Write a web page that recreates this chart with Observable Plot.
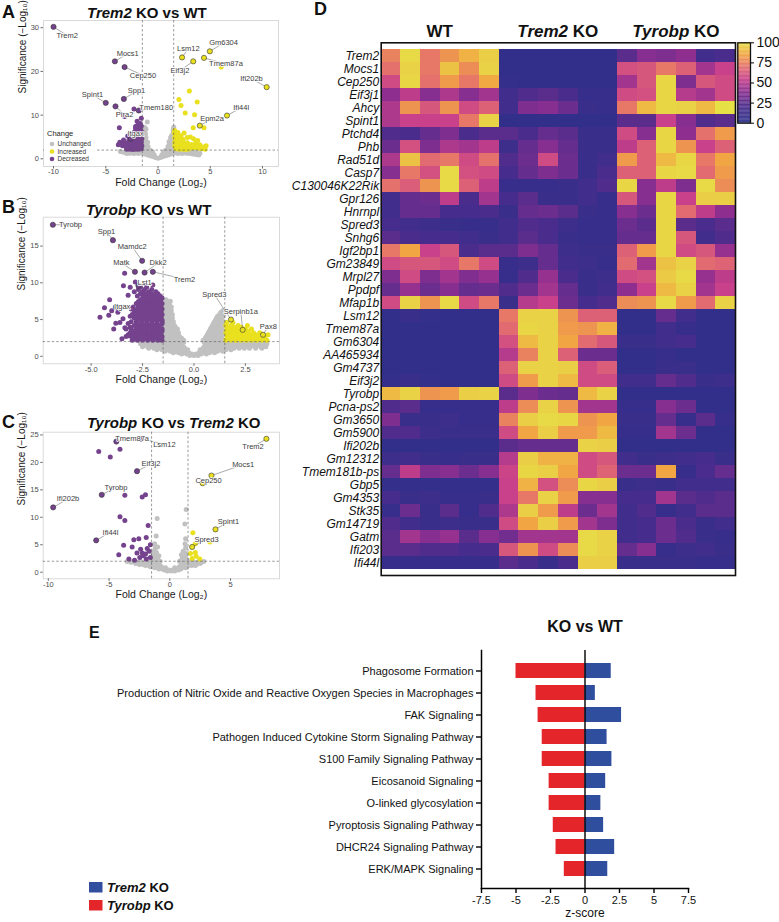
<!DOCTYPE html>
<html><head><meta charset="utf-8">
<script src="https://cdn.jsdelivr.net/npm/d3@7"></script>
<script src="https://cdn.jsdelivr.net/npm/@observablehq/plot@0.6"></script>
<style>
body{margin:0;background:#fff;}
#page{position:relative;width:779px;height:922px;overflow:hidden;background:#fff;font-family:'Liberation Sans',Arial,Helvetica,sans-serif;}
.panel{position:absolute;}
#overlay{position:absolute;left:0;top:0;pointer-events:none;}
</style></head><body><div id="page"></div>
<script>
// ---------------- DATA ----------------
// Panel A: Trem2 KO vs WT  ([log2 fold change, -log10 p])
const aGray = [[0,0.15],[-0.25,0.3],[0.25,0.3],[-0.5,0.5],[0.5,0.5],[-0.75,0.7],[0.75,0.7],[-1.0,0.9],[1.0,0.9],[-0.35,0.8],[0.35,0.8],[-1.25,1.1],[1.25,1.1],[-0.6,1.2],[0.6,1.2],[-1.5,1.3],[1.5,1.3],[-0.9,1.5],[0.9,1.5],[-1.8,1.5],[1.8,1.5],[-2.1,1.5],[2.1,1.5],[-2.4,1.4],[2.4,1.4],[-2.7,1.3],[2.7,1.3],[3.0,1.2],[3.3,1.1],[3.6,1.0],[3.9,0.9],[-3.0,1.2],[-1.2,1.8],[1.2,1.8],[-1.6,1.9],[1.6,1.9],[-2.0,1.9],[2.0,1.9],[-2.5,1.85],[2.5,1.85],[3.0,1.8],[3.5,1.7],[-0.7,1.9],[0.7,1.9],[-1.4,2.3],[1.4,2.3],[-1.0,2.4],[1.0,2.4],[-1.25,2.8],[1.25,2.8],[-1.45,3.2],[1.45,3.2],[-1.1,3.3],[1.1,3.3],[-1.35,3.8],[1.35,3.8],[-1.2,4.3],[1.25,4.3],[-1.45,4.6],[1.45,4.8],[-1.3,5.1],[1.3,5.3],[-1.45,5.6],[-1.25,6.0],[1.45,6.0],[-1.4,6.6],[-1.3,7.2],[1.5,7.2],[-1.03,8.4],[-1.5,4.0],[-1.5,2.7],[1.5,2.6],[1.5,3.6],[-1.55,1.6],[-2.8,1.6],[3.2,1.5],[4.0,1.3],[-3.3,1.5],
 [-1.1,1.3],[1.1,1.3],[-0.8,1.1],[0.8,1.1],[-0.45,1.0],[0.45,1.0],[-1.35,1.6],[1.35,1.6],[-1.0,1.9],[1.0,1.9],[-0.5,1.5],[0.5,1.5],[-1.25,2.1],[1.25,2.1],[-0.85,2.0],[0.85,2.0],[-1.3,2.5],[1.3,2.5],[-0.95,2.8],[0.95,2.8],[-1.2,3.1],[1.2,3.1],[-1.3,3.5],[1.3,3.5],[-1.0,3.8],[1.05,3.9],[-1.35,4.3],[1.4,4.3],[-1.15,4.8],[1.2,4.8],[-1.4,5.2],[1.4,5.5],[-1.2,5.6],[-1.35,6.3],[1.45,6.6],[-1.5,7.0],[-1.15,6.8],[-1.5,5.0],[-1.5,3.4],[1.5,4.2],[1.5,5.0],[-1.9,1.2],[1.9,1.2],[-2.3,1.2],[2.3,1.2],[-2.6,1.6],[2.7,1.6],[3.3,1.5],[3.7,1.4],[-3.6,1.7],[-2.2,1.75],[2.2,1.75],[-1.75,1.8],[1.75,1.8]];
const aDown = [[-2.3,11.4],[-3.2,9.7],[-3.7,7.1],[-2.0,8.6],[-2.15,6.9],[-3.66,3.8],[-3.5,3.4],[-3.2,3.6],[-2.85,2.7],[-1.6,7.5],[-1.9,7.8],[-1.7,6.8],[-1.55,6.2],[-1.8,6.0],[-2.0,6.4],[-2.3,6.0],[-2.6,5.6],[-1.6,5.5],[-1.75,5.0],[-2.1,5.2],[-2.4,5.4],[-2.0,4.9],[-2.6,4.8],[-2.9,5.2],[-1.55,4.6],[-1.65,4.1],[-1.9,4.4],[-2.2,4.3],[-2.5,4.0],[-2.8,4.2],[-2.4,4.6],[-1.6,3.8],[-1.8,3.5],[-2.05,3.7],[-2.35,3.4],[-2.65,3.3],[-2.7,3.8],[-3.0,3.5],[-1.55,3.0],[-1.75,2.8],[-2.0,2.9],[-2.25,2.7],[-2.5,2.6],[-2.75,2.5],[-3.1,2.8],[-3.4,3.0],[-1.6,2.3],[-1.85,2.2],[-2.1,2.2],[-2.4,2.15],[-2.7,2.2],[-3.0,2.2],[-3.3,4.3],[-3.5,3.6],[-3.8,3.2],[-1.7,8.1],[-1.6,9.3],
 [-1.75,7.1],[-2.15,7.4],[-1.65,6.1],[-1.95,5.6],[-2.25,5.7],[-1.7,4.5],[-2.3,4.0],[-1.95,3.2],[-2.2,3.1],[-2.55,3.0],[-2.85,3.1],[-1.7,2.5],[-2.3,2.4],[-2.85,2.4]];
const aUp = [[6.05,21],[3.0,15.5],[2.0,13.6],[2.2,12.2],[3.75,13.0],[2.6,10.5],[3.5,10.1],[4.4,7.1],[3.37,7.1],[2.5,5.9],[1.6,6.5],[1.55,5.9],[1.7,5.5],[1.9,6.0],[2.2,5.3],[2.0,5.0],[1.6,4.8],[1.8,4.3],[2.1,4.6],[2.4,4.4],[2.8,4.9],[3.1,5.0],[3.4,4.6],[3.8,4.2],[1.6,3.8],[1.9,3.6],[2.2,3.8],[2.5,3.5],[2.8,3.7],[3.2,3.3],[3.6,3.6],[4.0,3.2],[4.6,3.0],[1.6,3.0],[1.8,2.8],[2.1,2.9],[2.4,2.7],[2.7,2.6],[3.0,2.8],[3.3,2.5],[3.6,2.6],[3.9,2.4],[4.2,2.3],[4.5,2.2],[1.7,2.3],[2.0,2.2],[2.3,2.2],[2.6,2.15],[2.9,2.2],
 [1.75,4.0],[2.0,4.1],[2.3,4.2],[1.75,3.3],[2.05,3.3],[2.35,3.1],[2.65,3.1],[2.95,3.2],[3.4,3.0],[3.8,2.9],[4.3,2.7],[1.85,2.5],[2.15,2.5],[2.45,2.4]];
const aLabels = [
 {gene:"Trem2",fc:-10,s:30.2,lx:-8.7,ly:28.2},{gene:"Mocs1",fc:-4.13,s:22.3,lx:-2.9,ly:24.1},
 {gene:"Cep250",fc:-3.2,s:21,lx:-1.44,ly:19.1},{gene:"Spint1",fc:-5.0,s:12.8,lx:-6.27,ly:14.6},
 {gene:"Spp1",fc:-3.27,s:13.7,lx:-2.06,ly:15.5},{gene:"Pira2",fc:-4.07,s:12.0,lx:-3.2,ly:10.1},
 {gene:"Tmem180",fc:-1.84,s:11.05,lx:-0.17,ly:11.7},{gene:"Itgax",fc:-2.6,s:4.6,lx:-2.15,ly:5.7},
 {gene:"Lsm12",fc:2.3,s:23.2,lx:2.9,ly:25.2},{gene:"Gm6304",fc:4.96,s:24.6,lx:6.27,ly:26.5},
 {gene:"Eif3j2",fc:3.37,s:22.3,lx:2.1,ly:20.2},{gene:"Tmem87a",fc:4.4,s:23.1,lx:6.5,ly:21.7},
 {gene:"Ifi202b",fc:10.4,s:16.4,lx:8.95,ly:18.3},{gene:"Ifi44l",fc:6.6,s:9.9,lx:7.96,ly:11.7},
 {gene:"Epm2a",fc:4.0,s:7.6,lx:5.17,ly:9.15}];

// Panel B: Tyrobp KO vs WT
const bGray = [[-0.2,0.1],[0,0.1],[0.2,0.1],
 [-1.0,0.5],[-0.75,0.5],[-0.5,0.5],[-0.25,0.5],[0.25,0.5],[0.5,0.5],[0.75,0.5],[1.0,0.5],
 [-1.8,0.9],[-1.55,0.9],[-1.3,0.9],[-1.05,0.9],[-0.8,0.9],[-0.55,0.9],[-0.3,0.9],[0.3,0.9],[0.55,0.9],[0.8,0.9],[1.05,0.9],[1.3,0.9],[1.55,0.9],[1.8,0.9],
 [-2.5,1.3],[-2.25,1.3],[-2.0,1.3],[-1.75,1.3],[-1.5,1.3],[-1.25,1.3],[-1.0,1.3],[-0.75,1.3],[-0.5,1.3],[0.5,1.3],[0.75,1.3],[1.0,1.3],[1.25,1.3],[1.5,1.3],[1.75,1.3],[2.0,1.3],[2.25,1.3],[2.5,1.3],[2.75,1.3],[3.0,1.3],[3.25,1.3],[3.5,1.3],
 [-2.6,1.7],[-2.35,1.7],[-2.1,1.7],[-1.85,1.7],[-1.6,1.7],[-1.35,1.7],[-1.1,1.7],[-0.85,1.7],[-0.6,1.7],[0.55,1.7],[0.8,1.7],[1.05,1.7],[1.3,1.7],[1.55,1.7],[1.8,1.7],[2.05,1.7],[2.3,1.7],[2.55,1.7],[2.8,1.7],[3.05,1.7],[3.3,1.7],[3.55,1.7],
 [-1.45,2.2],[-1.2,2.2],[-0.95,2.2],[-0.7,2.2],[-0.5,2.2],[0.45,2.2],[0.7,2.2],[0.95,2.2],[1.2,2.2],[1.45,2.2],
 [-1.45,2.7],[-1.2,2.7],[-0.95,2.7],[-0.7,2.7],[0.6,2.7],[0.85,2.7],[1.1,2.7],[1.35,2.7],
 [-1.45,3.2],[-1.2,3.2],[-0.95,3.2],[-0.75,3.2],[0.7,3.2],[0.95,3.2],[1.2,3.2],[1.45,3.2],
 [-1.45,3.7],[-1.2,3.7],[-0.95,3.7],[-0.8,3.7],[0.8,3.7],[1.05,3.7],[1.3,3.7],
 [-1.45,4.2],[-1.2,4.2],[-0.95,4.2],[0.9,4.2],[1.15,4.2],[1.4,4.2],
 [-1.45,4.7],[-1.2,4.7],[-1.0,4.7],[1.0,4.7],[1.25,4.7],[1.45,4.7],
 [-1.45,5.2],[-1.2,5.2],[-1.05,5.2],[1.1,5.2],[1.35,5.2],
 [-1.45,5.7],[-1.2,5.7],[-1.05,5.7],[1.25,5.7],[1.45,5.7],
 [-1.45,6.2],[-1.25,6.2],[-1.1,6.2],[1.4,6.2],
 [-1.45,6.7],[-1.25,6.7],[-1.1,6.7],[-1.4,7.2],[-1.2,7.2],[-1.35,7.7],[-1.15,7.5],
 [-0.6,0.3],[-0.35,0.3],[-0.1,0.3],[0.1,0.3],[0.35,0.3],[0.6,0.3],
 [-1.4,0.7],[-1.15,0.7],[-0.9,0.7],[-0.65,0.7],[-0.4,0.7],[0.4,0.7],[0.65,0.7],[0.9,0.7],[1.15,0.7],[1.4,0.7],
 [-2.2,1.1],[-1.95,1.1],[-1.7,1.1],[-1.45,1.1],[-1.2,1.1],[-0.95,1.1],[-0.7,1.1],[-0.45,1.1],[0.45,1.1],[0.7,1.1],[0.95,1.1],[1.2,1.1],[1.45,1.1],[1.7,1.1],[1.95,1.1],[2.2,1.1],[2.45,1.1],[2.7,1.1],[3.0,1.1],[3.3,1.1],
 [-2.45,1.5],[-2.2,1.5],[-1.95,1.5],[-1.7,1.5],[-1.45,1.5],[-1.2,1.5],[-0.95,1.5],[-0.7,1.5],[0.65,1.5],[0.9,1.5],[1.15,1.5],[1.4,1.5],[1.65,1.5],[1.9,1.5],[2.15,1.5],[2.4,1.5],[2.65,1.5],[2.9,1.5],[3.15,1.5],[3.4,1.5],
 [-2.2,1.9],[-1.95,1.9],[-1.7,1.9],[-1.5,1.9],[-1.25,1.9],[-1.0,1.9],[-0.75,1.9],[-0.5,1.9],[0.5,1.9],[0.7,1.9],[0.95,1.9],[1.2,1.9],[1.45,1.9],[1.7,1.9],[1.95,1.9],[2.2,1.9],[2.45,1.9],[2.7,1.9],[2.95,1.9],[3.2,1.9],[3.45,1.9],
 [-1.35,2.45],[-1.1,2.45],[-0.85,2.45],[-0.6,2.45],[0.55,2.45],[0.8,2.45],[1.05,2.45],[1.3,2.45],
 [-1.35,2.95],[-1.1,2.95],[-0.85,2.95],[0.65,2.95],[0.9,2.95],[1.15,2.95],[1.4,2.95],
 [-1.35,3.45],[-1.1,3.45],[-0.85,3.45],[0.75,3.45],[1.0,3.45],[1.25,3.45],[1.45,3.45],
 [-1.35,3.95],[-1.1,3.95],[-0.9,3.95],[0.85,3.95],[1.1,3.95],[1.35,3.95],
 [-1.35,4.45],[-1.1,4.45],[0.95,4.45],[1.2,4.45],[1.45,4.45],
 [-1.35,4.95],[-1.15,4.95],[1.05,4.95],[1.3,4.95],[-1.35,5.45],[-1.15,5.45],[1.15,5.45],[1.4,5.45],
 [-1.35,5.95],[-1.2,5.95],[1.3,5.95],[-1.35,6.45],[-1.2,6.45],[-1.35,6.95],[-1.2,6.95]];
const bDown = [[-3.37,11.3],[-3.43,9.6],[-4.1,7.7],[-4.57,5.3],[-4.14,5.6],[-4.0,6.2],[-3.36,3.9],[-3.2,2.8],[-3.6,4.6],[-3.7,6.0],[-3.45,5.1],[-3.9,3.7],[-3.5,2.4],[-3.8,4.5],[-2.85,10.1],[-2.4,9.9],[-2.0,9.7],[-3.2,8.3],[-4.35,6.6],
 [-3.0,2.2],[-2.75,2.2],[-2.5,2.2],[-2.25,2.2],[-2.0,2.2],[-1.75,2.2],[-1.55,2.2],
 [-3.3,2.7],[-3.05,2.7],[-2.8,2.7],[-2.55,2.7],[-2.3,2.7],[-2.05,2.7],[-1.8,2.7],[-1.55,2.7],
 [-3.1,3.2],[-2.85,3.2],[-2.6,3.2],[-2.35,3.2],[-2.1,3.2],[-1.85,3.2],[-1.6,3.2],
 [-3.3,3.7],[-3.05,3.7],[-2.8,3.7],[-2.55,3.7],[-2.3,3.7],[-2.05,3.7],[-1.8,3.7],[-1.55,3.7],
 [-2.9,4.2],[-2.65,4.2],[-2.4,4.2],[-2.15,4.2],[-1.9,4.2],[-1.65,4.2],
 [-3.05,4.7],[-2.8,4.7],[-2.55,4.7],[-2.3,4.7],[-2.05,4.7],[-1.8,4.7],[-1.55,4.7],
 [-2.9,5.2],[-2.65,5.2],[-2.4,5.2],[-2.15,5.2],[-1.9,5.2],[-1.65,5.2],
 [-3.0,5.7],[-2.75,5.7],[-2.5,5.7],[-2.25,5.7],[-2.0,5.7],[-1.75,5.7],[-1.55,5.7],
 [-2.85,6.2],[-2.6,6.2],[-2.35,6.2],[-2.1,6.2],[-1.85,6.2],[-1.6,6.2],
 [-2.95,6.7],[-2.7,6.7],[-2.45,6.7],[-2.2,6.7],[-1.95,6.7],[-1.7,6.7],
 [-2.8,7.2],[-2.55,7.2],[-2.3,7.2],[-2.05,7.2],[-1.8,7.2],[-1.55,7.2],
 [-2.6,7.7],[-2.35,7.7],[-2.1,7.7],[-1.85,7.7],[-1.6,7.7],
 [-2.75,8.2],[-2.45,8.2],[-2.2,8.2],[-1.9,8.2],[-1.65,8.2],
 [-2.9,8.8],[-2.5,8.8],[-2.2,8.8],[-1.85,8.8],[-3.1,9.4],[-2.6,9.4],[-2.3,9.4],
 [-2.9,2.45],[-2.65,2.45],[-2.4,2.45],[-2.15,2.45],[-1.9,2.45],[-1.65,2.45],
 [-3.2,2.95],[-2.95,2.95],[-2.7,2.95],[-2.45,2.95],[-2.2,2.95],[-1.95,2.95],[-1.7,2.95],
 [-3.0,3.45],[-2.75,3.45],[-2.5,3.45],[-2.25,3.45],[-2.0,3.45],[-1.75,3.45],[-1.55,3.45],
 [-3.1,3.95],[-2.7,3.95],[-2.45,3.95],[-2.2,3.95],[-1.95,3.95],[-1.7,3.95],
 [-3.2,4.45],[-2.8,4.45],[-2.55,4.45],[-2.3,4.45],[-2.05,4.45],[-1.8,4.45],[-1.55,4.45],
 [-2.75,4.95],[-2.5,4.95],[-2.25,4.95],[-2.0,4.95],[-1.75,4.95],[-1.55,4.95],
 [-3.1,5.45],[-2.85,5.45],[-2.6,5.45],[-2.35,5.45],[-2.1,5.45],[-1.85,5.45],[-1.6,5.45],
 [-2.9,5.95],[-2.65,5.95],[-2.4,5.95],[-2.15,5.95],[-1.9,5.95],[-1.65,5.95],
 [-3.05,6.45],[-2.75,6.45],[-2.5,6.45],[-2.25,6.45],[-2.0,6.45],[-1.75,6.45],[-1.55,6.45],
 [-2.6,6.95],[-2.35,6.95],[-2.1,6.95],[-1.85,6.95],[-1.6,6.95],
 [-2.7,7.45],[-2.45,7.45],[-2.2,7.45],[-1.95,7.45],[-1.7,7.45],
 [-2.5,7.95],[-2.25,7.95],[-2.0,7.95],[-1.75,7.95],[-1.55,7.95],
 [-2.6,8.5],[-2.35,8.5],[-2.05,8.5],[-1.75,8.5],[-2.7,9.1],[-2.4,9.1],[-2.05,9.1]];
const bUp = [[1.55,2.2],[1.8,2.2],[2.05,2.2],[2.3,2.2],[2.55,2.2],[2.8,2.2],[3.05,2.2],[3.3,2.2],[3.55,2.2],
 [1.6,2.7],[1.85,2.7],[2.1,2.7],[2.35,2.7],[2.6,2.7],[2.85,2.7],[3.1,2.7],[3.6,2.93],
 [1.55,3.2],[1.8,3.2],[2.05,3.2],[2.3,3.2],[2.6,3.2],[2.9,3.2],[3.2,3.2],
 [1.6,3.7],[1.85,3.7],[2.1,3.7],[2.5,3.7],[2.8,3.7],[1.55,4.2],[1.8,4.2],[2.15,4.2],[2.6,4.2],[1.6,4.6],[1.9,4.6],
 [1.7,2.45],[1.95,2.45],[2.2,2.45],[2.45,2.45],[2.7,2.45],[2.95,2.45],[3.2,2.45],[3.45,2.45],
 [1.7,2.95],[1.95,2.95],[2.2,2.95],[2.45,2.95],[2.75,2.95],[3.0,2.95],
 [1.7,3.45],[1.95,3.45],[2.2,3.45],[2.4,3.45],[2.65,3.45],[1.7,3.95],[1.95,3.95],[2.3,3.95]];
const bLabels = [
 {gene:"Tyrobp",fc:-6.86,s:17.9,lx:-6.0,ly:17.9},{gene:"Spp1",fc:-3.94,s:15.8,lx:-4.25,ly:17.0},
 {gene:"Mamdc2",fc:-2.52,s:13.0,lx:-3.0,ly:14.9},{gene:"Matk",fc:-2.87,s:11.5,lx:-3.53,ly:12.7},
 {gene:"Dkk2",fc:-2.4,s:11.4,lx:-1.74,ly:12.7},{gene:"Trem2",fc:-2.0,s:11.5,lx:-0.46,ly:10.5},
 {gene:"Lst1",fc:-2.7,s:9.6,lx:-2.4,ly:10.0},{gene:"Itgax",fc:-3.8,s:6.7,lx:-3.49,ly:6.7},
 {gene:"Spred3",fc:1.8,s:5.0,lx:0.99,ly:8.4},{gene:"Serpinb1a",fc:2.37,s:3.6,lx:2.28,ly:6.1},
 {gene:"Pax8",fc:3.36,s:2.93,lx:3.62,ly:4.1}];

// Panel C: Tyrobp KO vs Trem2 KO
const cGray = [[-0.2,0.2],[0.1,0.2],[0.4,0.2],[-0.9,0.6],[-0.6,0.6],[-0.3,0.6],[0.6,0.6],[0.9,0.6],
 [-1.6,1.0],[-1.3,1.0],[-1.0,1.0],[-0.7,1.0],[0.8,1.0],[1.1,1.0],[1.4,1.0],
 [-2.5,1.4],[-2.2,1.4],[-1.9,1.4],[-1.6,1.4],[-1.3,1.4],[-1.0,1.4],[1.0,1.4],[1.3,1.4],[1.6,1.4],[1.9,1.4],[2.2,1.4],
 [-3.2,1.8],[-2.9,1.8],[-2.6,1.8],[-2.3,1.8],[-2.0,1.8],[-1.7,1.8],[-1.4,1.8],[-1.1,1.8],[1.1,1.8],[1.4,1.8],[1.7,1.8],[2.0,1.8],[2.3,1.8],[2.6,1.8],
 [-1.45,2.2],[-1.2,2.2],[1.2,2.2],[1.45,2.2],[-1.4,2.6],[-1.15,2.6],[1.25,2.6],[-1.4,3.0],[-1.2,3.0],[1.3,3.0],[-1.35,3.4],[1.35,3.4],[-1.3,3.8],[-1.2,4.4],[1.3,4.4],[-1.25,5.2],[1.25,5.2],
 [-1.04,9.8],[-1.12,6.6],[1.35,11.4],[1.24,8.8],[1.3,6.1],[-1.0,4.6],
 [-0.45,0.4],[-0.05,0.4],[0.25,0.4],[0.7,0.4],[-1.25,0.8],[-0.95,0.8],[-0.65,0.8],[-0.35,0.8],[0.4,0.8],[0.7,0.8],[1.0,0.8],[1.3,0.8],
 [-2.0,1.2],[-1.7,1.2],[-1.4,1.2],[-1.1,1.2],[-0.8,1.2],[0.9,1.2],[1.2,1.2],[1.5,1.2],[1.8,1.2],[2.1,1.2],
 [-2.8,1.6],[-2.5,1.6],[-2.2,1.6],[-1.9,1.6],[-1.6,1.6],[-1.3,1.6],[-1.0,1.6],[1.0,1.6],[1.3,1.6],[1.6,1.6],[1.9,1.6],[2.2,1.6],[2.5,1.6],
 [-3.5,1.95],[-3.0,1.95],[-2.4,1.95],[-1.9,1.95],[-1.25,1.95],[1.25,1.95],[1.9,1.95],[2.4,1.95],[2.8,1.95],
 [-1.0,2.4],[1.0,2.4],[-0.9,3.0],[0.95,3.2],[-1.1,3.6],[1.1,3.8],[-0.8,2.0],[0.8,2.0]];
const cDown = [[-5.85,22.0],[-4.9,21.0],[-4.1,22.4],[-3.7,14.0],[-2.27,13.7],[-2.0,14.1],[-4.1,10.1],[-3.7,9.4],[-1.78,8.5],[-4.2,3.2],[-3.8,4.9],[-2.96,5.9],[-2.55,6.1],[-1.94,6.3],[-1.6,5.0],[-3.1,4.6],[-2.7,3.5],[-2.27,3.5],[-2.0,3.3],[-2.47,2.7],[-1.94,2.4],[-3.37,2.4],[-1.6,2.7],[-1.86,4.3],[-2.2,3.0],[-2.9,2.2],[-1.7,3.8],[-2.4,4.2]];
const cUp = [[1.9,7.2],[3.3,5.5],[2.1,5.2],[1.7,3.4],[2.1,3.6],[2.17,2.9],[1.84,2.5],[2.47,2.4]];
const cLabels = [
 {gene:"Ifi202b",fc:-9.6,s:11.8,lx:-8.38,ly:13.4},{gene:"Tyrobp",fc:-5.6,s:14.1,lx:-4.43,ly:15.5},
 {gene:"Ifi44l",fc:-6.06,s:5.8,lx:-4.88,ly:7.3},{gene:"Tmem87a",fc:-4.4,s:23.8,lx:-3.1,ly:24.3},
 {gene:"Lsm12",fc:-2.35,s:24.3,lx:-0.44,ly:23.3},{gene:"Eif3j2",fc:-2.7,s:18.4,lx:-1.55,ly:19.7},
 {gene:"Trem2",fc:7.95,s:24.3,lx:6.85,ly:22.8},{gene:"Mocs1",fc:3.43,s:17.6,lx:6.04,ly:19.6},
 {gene:"Cep250",fc:2.7,s:16.2,lx:3.19,ly:16.7},{gene:"Spint1",fc:3.76,s:7.8,lx:4.83,ly:9.2},
 {gene:"Spred3",fc:1.84,s:4.6,lx:3.02,ly:5.96}];

// Panel D: heatmap (scaled expression 0-100), 6 samples per group
const genes = ["Trem2","Mocs1","Cep250","Eif3j1","Ahcy","Spint1","Ptchd4","Phb","Rad51d","Casp7","C130046K22Rik","Gpr126","Hnrnpl","Spred3","Snhg6","Igf2bp1","Gm23849","Mrpl27","Ppdpf","Mfap1b","Lsm12","Tmem87a","Gm6304","AA465934","Gm4737","Eif3j2","Tyrobp","Pcna-ps2","Gm3650","Gm5900","Ifi202b","Gm12312","Tmem181b-ps","Gbp5","Gm4353","Stk35","Gm14719","Gatm","Ifi203","Ifi44l"];
const groups = ["WT","Trem2 KO","Tyrobp KO"];
const wtVals = [[75,98,72,80,88,95],[70,96,72,92,78,96],[58,97,70,82,72,86],[40,52,38,48,38,45],[48,80,62,80,58,65],[48,55,55,55,72,96],[22,20,28,35,20,25],[30,60,35,48,45,52],[48,92,68,72,58,70],[38,72,60,98,60,58],[70,64,80,98,65,52],[15,28,30,52,20,45],[15,28,28,18,18,20],[18,15,12,10,8,8],[25,20,18,18,15,10],[72,85,55,62,20,25],[58,62,62,58,72,58],[35,58,35,45,36,42],[28,42,30,38,28,30],[58,96,80,98,58,72],[5,10,6,5,5,5],[5,5,5,5,5,5],[5,5,5,5,5,5],[5,5,5,5,5,5],[5,5,5,5,5,5],[6,10,6,5,5,5],[90,96,80,82,95,96],[22,25,8,8,8,8],[35,10,10,12,8,8],[22,22,12,10,10,10],[5,5,5,5,5,5],[12,15,10,8,10,10],[28,52,35,38,30,38],[6,6,6,6,6,6],[18,10,12,8,8,10],[8,30,10,25,8,22],[22,15,10,12,10,10],[25,45,38,42,25,38],[25,25,22,22,18,20],[8,8,8,8,8,8]];
const trem2Vals = [[5,5,5,5,5,5],[5,5,5,5,5,5],[6,5,5,5,5,5],[15,22,25,20,8,8],[15,35,38,30,10,8],[5,5,5,5,5,5],[25,20,28,25,10,10],[12,28,38,28,10,10],[22,30,58,30,10,15],[18,28,35,30,10,20],[8,8,8,10,15,22],[18,25,10,10,15,8],[10,28,30,25,10,8],[15,22,20,12,8,8],[15,25,20,10,8,8],[25,35,28,12,10,10],[8,12,28,15,12,8],[8,22,42,20,10,12],[22,30,45,28,10,15],[10,50,55,30,18,22],[72,96,96,80,65,65],[68,97,96,82,80,88],[60,90,96,85,68,62],[50,75,96,65,30,30],[65,96,96,95,58,64],[58,82,96,90,58,58],[25,35,30,28,90,96],[52,78,96,80,45,45],[75,95,98,97,80,85],[58,85,95,82,82,90],[25,28,28,28,96,95],[50,95,88,88,58,62],[56,97,95,85,58,66],[55,88,60,78,97,95],[55,72,96,82,38,38],[48,95,82,52,30,45],[58,85,95,82,45,35],[32,45,45,45,98,96],[62,80,58,78,98,96],[25,20,10,20,95,95]];
const tyrobpVals = [[25,38,35,40,15,20],[60,62,72,65,45,55],[45,62,97,35,62,58],[58,60,97,50,45,58],[72,90,97,96,90,100],[25,25,55,38,22,25],[58,38,97,40,70,82],[52,65,97,80,55,65],[82,65,90,97,72,85],[65,65,97,98,68,82],[97,38,52,35,98,78],[62,38,97,55,95,95],[38,30,97,68,52,40],[30,25,97,25,20,25],[28,28,97,62,15,22],[65,82,97,58,62,42],[68,45,92,96,68,66],[58,60,94,98,42,52],[40,55,90,96,45,55],[78,80,98,82,68,96],[5,5,28,15,5,5],[5,5,15,8,5,5],[10,10,15,18,5,5],[5,5,8,5,5,5],[5,5,10,10,5,5],[15,15,28,22,10,12],[5,5,5,5,5,5],[8,8,38,30,5,5],[10,10,28,8,25,8],[8,8,45,30,5,5],[5,5,5,5,5,5],[15,10,12,15,18,10],[30,30,85,8,20,28],[10,12,10,15,15,15],[18,18,45,25,22,25],[15,22,8,15,25,25],[15,18,30,20,10,15],[15,18,30,22,10,8],[28,38,8,12,15,10],[10,10,10,10,8,8]];
const colorTicks = [0,25,50,75,100];

// Panel E: canonical pathways z-scores
const pathways = ["Phagosome Formation","Production of Nitric Oxide and Reactive Oxygen Species in Macrophages","FAK Signaling","Pathogen Induced Cytokine Storm Signaling Pathway","S100 Family Signaling Pathway","Eicosanoid Signaling","O-linked glycosylation","Pyroptosis Signaling Pathway","DHCR24 Signaling Pathway","ERK/MAPK Signaling"];
const trem2Z = [1.9,0.75,2.65,1.6,1.95,1.5,1.15,1.35,2.15,1.65];
const tyrobpZ = [-5.0,-3.55,-3.4,-3.1,-3.1,-2.6,-2.6,-2.3,-2.1,-1.5];
const zTicks = [-7.5,-5,-2.5,0,2.5,5,7.5];

// ---------------- DRAWING ----------------
const FONT = "'Liberation Sans', Arial, Helvetica, sans-serif";
const GRAY = "#c1c1c1", PURPLE = "#75438e", YELLOW = "#e9e01f";
const RED = "#e4262a", BLUE = "#2f4f9e";
const page = document.getElementById("page");
function place(node, left, top){ const d = document.createElement("div"); d.className = "panel"; d.style.left = left + "px"; d.style.top = top + "px"; d.appendChild(node); page.appendChild(d); return node; }
const toObj = a => a.map(([fc, s]) => ({fc, s}));

function volcano(c){
  return Plot.plot({
    width: c.width, height: c.height,
    marginLeft: c.ml, marginRight: c.mr, marginTop: c.mt, marginBottom: c.mb,
    style: {fontFamily: FONT, background: "transparent", overflow: "visible"},
    x: {domain: c.xdom}, y: {domain: c.ydom},
    marks: [
      Plot.frame({stroke: "#d6d6d6", strokeWidth: 0.9}),
      Plot.axisX({ticks: c.xticks, tickFormat: c.xfmt, tickSize: 2.5, tickPadding: 0, fontSize: 7.5, fill: "#4d4d4d", stroke: "#6d6d6d", label: null}),
      Plot.axisY({ticks: c.yticks, tickFormat: d => String(d), tickSize: 2.5, tickPadding: 2, fontSize: 7.5, fill: "#4d4d4d", stroke: "#6d6d6d", label: null}),
      Plot.dot(toObj(c.gray), {x: "fc", y: "s", r: 2.5, fill: GRAY}),
      Plot.dot(toObj(c.down), {x: "fc", y: "s", r: 2.5, fill: PURPLE}),
      Plot.dot(toObj(c.up), {x: "fc", y: "s", r: 2.5, fill: YELLOW}),
      Plot.ruleX([-1.5, 1.5], {stroke: "#555", strokeWidth: 0.6, strokeDasharray: "2.5,2"}),
      Plot.ruleY([2], {stroke: "#555", strokeWidth: 0.6, strokeDasharray: "2.5,2"}),
      Plot.link(c.labels, {x1: "fc", y1: "s", x2: "lx", y2: "ly", stroke: "#555", strokeWidth: 0.5}),
      Plot.dot(c.labels, {x: "fc", y: "s", r: 2.6, fill: d => d.fc < 0 ? PURPLE : YELLOW, stroke: "#333", strokeWidth: 0.6}),
      Plot.text(c.labels, {x: "lx", y: "ly", text: "gene", fontSize: 7.5, fill: "#3c3c3c", stroke: "white", strokeWidth: 1.6}),
      Plot.text(["Fold Change (Log₂)"], {frameAnchor: "bottom", lineAnchor: "top", dy: 12, fontSize: 10.5, fill: "#1a1a1a"}),
      Plot.text(["Significance (−Log₁₀)"], {frameAnchor: "left", rotate: -90, dx: -21, fontSize: 10, fill: "#1a1a1a"})
    ]
  });
}

place(volcano({width: 285, height: 192, ml: 43, mr: 7, mt: 20, mb: 26, xdom: [-10.96, 11.53], ydom: [-1.76, 31.65],
  xticks: [-10, -5, 0, 5, 10], xfmt: d => String(d), yticks: [0, 10, 20, 30], gray: aGray, down: aDown, up: aUp, labels: aLabels}), 0, 0);
place(volcano({width: 285, height: 205, ml: 42.7, mr: 6, mt: 26.7, mb: 31.7, xdom: [-7.33, 4.16], ydom: [-1.02, 18.93],
  xticks: [-5, -2.5, 0, 2.5], xfmt: d => d.toFixed(1), yticks: [0, 5, 10, 15], gray: bGray, down: bDown, up: bUp, labels: bLabels}), 0, 190);
place(volcano({width: 285, height: 210, ml: 42.7, mr: 6, mt: 36.7, mb: 26.7, xdom: [-10.42, 9.03], ydom: [-1.2, 25.5],
  xticks: [-10, -5, 0, 5], xfmt: d => String(d), yticks: [0, 5, 10, 15, 20, 25], gray: cGray, down: cDown, up: cUp, labels: cLabels}), 0, 395);

// Heatmap
const colorOpts = {type: "linear", domain: [0, 20, 40, 55, 70, 85, 100],
  range: ["#2a3089", "#492c8c", "#8e2f90", "#c9418a", "#e5716d", "#f2a643", "#e6e246"], interpolate: "rgb"};
const cells = [];
genes.forEach((g, i) => [wtVals, trem2Vals, tyrobpVals].forEach((arr, gi) => arr[i].forEach((v, j) => cells.push({gene: g, col: gi * 6 + j, v}))));
const plotD = Plot.plot({
  width: 519, height: 600, marginLeft: 120.7, marginRight: 44, marginTop: 42.3, marginBottom: 25,
  style: {fontFamily: FONT, background: "transparent", overflow: "visible"},
  x: {domain: [0, 18], axis: null},
  y: {domain: genes, padding: 0},
  color: colorOpts,
  marks: [
    Plot.barX(cells, {x1: "col", x2: d => d.col + 1, y: "gene", fill: "v", shapeRendering: "crispEdges"}),
    Plot.frame({stroke: "#111", strokeWidth: 1.6}),
    Plot.axisY({tickSize: 0, tickPadding: 2, fontSize: 12, fontStyle: "italic", fill: "#111", label: null})
  ]
});
place(plotD, 260, 0);

// Colour bar
const stops = d3.range(0, 100, 1);
place(Plot.plot({
  width: 45, height: 90, marginLeft: 5.3, marginRight: 27, marginTop: 5.3, marginBottom: 4.3,
  style: {fontFamily: FONT, background: "transparent", overflow: "visible"},
  x: {domain: [0, 1], axis: null}, y: {domain: [0, 100]}, color: colorOpts,
  marks: [
    Plot.rect(stops, {x1: 0, x2: 1, y1: d => d, y2: d => d + 1.2, fill: d => d + 0.5}),
    Plot.frame({stroke: "#111", strokeWidth: 1.3}),
    Plot.axisY({anchor: "right", ticks: colorTicks, tickSize: 3, tickPadding: 3, fontSize: 14, fill: "#111", label: null})
  ]
}), 732, 37);

// Panel E bars
const rowsE = pathways.map((p, i) => ({p, trem2: trem2Z[i], tyrobp: tyrobpZ[i]}));
place(Plot.plot({
  width: 779, height: 312, marginLeft: 481, marginRight: 91, marginTop: 40, marginBottom: 34,
  style: {fontFamily: FONT, background: "transparent", overflow: "visible"},
  x: {domain: [-7.5, 7.5]},
  y: {domain: pathways, paddingInner: 0.32, paddingOuter: 0.35},
  marks: [
    Plot.barX(rowsE, {y: "p", x: "tyrobp", fill: RED}),
    Plot.barX(rowsE, {y: "p", x: "trem2", fill: BLUE}),
    Plot.ruleX([0], {stroke: "#000", strokeWidth: 1.4}),
    Plot.axisY({tickSize: 5, tickPadding: 3, fontSize: 11, fill: "#111", stroke: "#000", strokeWidth: 1.4, label: null}),
    Plot.axisX({ticks: zTicks, tickFormat: d => String(d), tickSize: 5, tickPadding: 3, fontSize: 11, fill: "#111", stroke: "#000", strokeWidth: 1.4, label: null}),
    Plot.frame({anchor: "left", stroke: "#000", strokeWidth: 1.5}),
    Plot.frame({anchor: "bottom", stroke: "#000", strokeWidth: 1.5}),
    Plot.text(["z-score"], {frameAnchor: "bottom", dy: 28, fontSize: 12, fill: "#111"})
  ]
}), 0, 610);

// ---------------- ANNOTATION OVERLAY ----------------
const ov = d3.select("#page").append("svg").attr("id", "overlay").attr("width", 779).attr("height", 922)
  .attr("font-family", FONT);
function rich(x, y, parts, o){
  const t = ov.append("text").attr("x", x).attr("y", y).attr("font-size", o.size)
    .attr("font-weight", o.weight || "normal").attr("text-anchor", o.anchor || "start").attr("fill", o.fill || "#111");
  parts.forEach(([s, it]) => t.append("tspan").attr("font-style", it ? "italic" : "normal").text(s));
}
rich(2, 18, [["A", 0]], {size: 18, weight: "bold"});
rich(2, 213, [["B", 0]], {size: 18, weight: "bold"});
rich(2, 428, [["C", 0]], {size: 18, weight: "bold"});
rich(314, 15, [["D", 0]], {size: 18, weight: "bold"});
rich(89, 638, [["E", 0]], {size: 16, weight: "bold"});
rich(87, 18, [["Trem2", 1], [" KO vs WT", 0]], {size: 15, weight: "bold"});
rich(86, 215, [["Tyrobp", 1], [" KO vs WT", 0]], {size: 15, weight: "bold"});
rich(87, 428, [["Tyrobp", 1], [" KO vs ", 0], ["Trem2", 1], [" KO", 0]], {size: 15, weight: "bold"});
ov.append("rect").attr("x", 44).attr("y", 126).attr("width", 52).attr("height", 39).attr("fill", "white");
rich(47, 136, [["Change", 0]], {size: 7.5, fill: "#222"});
[["Unchanged", GRAY, 144], ["Increased", YELLOW, 151.5], ["Decreased", PURPLE, 159]].forEach(([t, c, y]) => {
  ov.append("circle").attr("cx", 52).attr("cy", y).attr("r", 2.3).attr("fill", c);
  rich(57.5, y + 2.3, [[t, 0]], {size: 6.5, fill: "#333"});
});
const xs = plotD.scale("x");
const hdr = [[["WT", 0]], [["Trem2", 1], [" KO", 0]], [["Tyrobp", 1], [" KO", 0]]];
hdr.forEach((parts, gi) => {
  const cx = 260 + xs.apply(gi * 6 + 3);
  rich(cx, 36.5, parts, {size: 17, weight: "bold", anchor: "middle"});
});
rich(585, 632, [["KO vs WT", 0]], {size: 16, weight: "bold", anchor: "middle"});
ov.append("rect").attr("x", 89).attr("y", 882).attr("width", 13.5).attr("height", 10.5).attr("fill", BLUE);
rich(107, 892, [["Trem2", 1], [" KO", 0]], {size: 13, weight: "bold"});
ov.append("rect").attr("x", 89).attr("y", 900).attr("width", 13.5).attr("height", 10.5).attr("fill", RED);
rich(107, 910, [["Tyrobp", 1], [" KO", 0]], {size: 13, weight: "bold"});
</script></body></html>
